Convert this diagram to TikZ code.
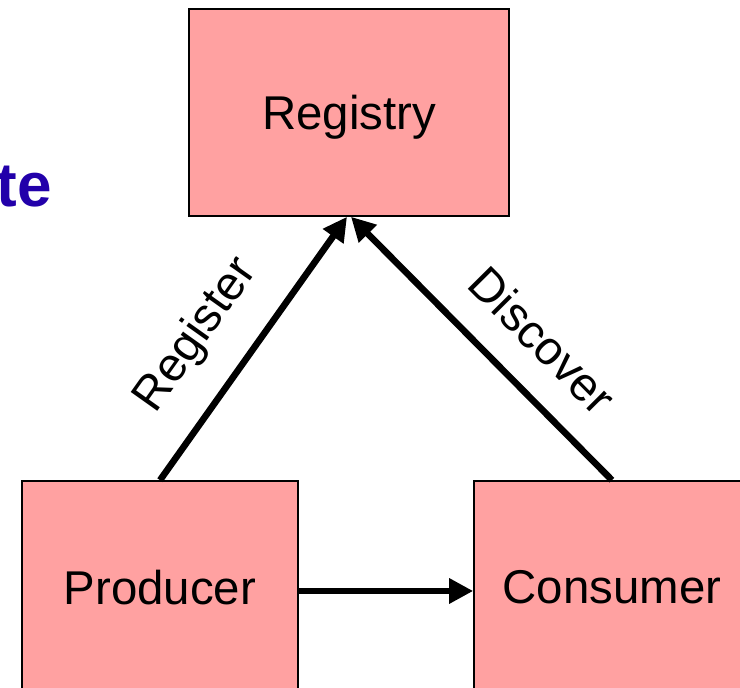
\documentclass[tikz,border=0pt]{standalone}
\usepackage{fontspec}
\setmainfont{Liberation Sans}
\usetikzlibrary{arrows.meta}
\definecolor{boxpink}{RGB}{255,161,161}
\definecolor{titleblue}{RGB}{34,0,170}

\begin{document}
\begin{tikzpicture}[x=0.5pt, y=-0.5pt,
    box/.style={draw=black, line width=0.8pt, fill=boxpink, rectangle, inner sep=0pt, text depth=0pt, font=\fontsize{23.7}{28}\selectfont},
    flow/.style={line width=3.3pt, -{Triangle[length=12pt, width=12pt]}},
    tag/.style={font=\fontsize{23.7}{28}\selectfont}]

  % picture frame
  \clip (0, 0) rectangle (740, 688);

  % title fragment
  \node at (52, 207) (title) [anchor=base east, inner sep=0pt, text=titleblue, font=\fontsize{31}{36}\selectfont\bfseries] {te};

  % boxes
  \node at (349, 112.5) (registry) [box, minimum width=160pt, minimum height=103.5pt] {Registry};
  \node at (160, 587) (producer) [box, minimum width=138pt, minimum height=106pt] {Producer};
  \node at (612, 587) (consumer) [box, minimum width=138pt, minimum height=106pt] {Consumer};

  % connectors
  \draw [flow] (producer.north) -- ([xshift=-1pt] registry.south) node [tag, pos=0.43, sloped, above=11pt] {Register};
  \draw [flow] (consumer.north) -- ([xshift=1pt] registry.south) node [tag, pos=0.4, sloped, above=11pt] {Discover};
  \draw [flow] ([yshift=-2pt] producer.east) -- ([yshift=-2pt] consumer.west);

\end{tikzpicture}
\end{document}
